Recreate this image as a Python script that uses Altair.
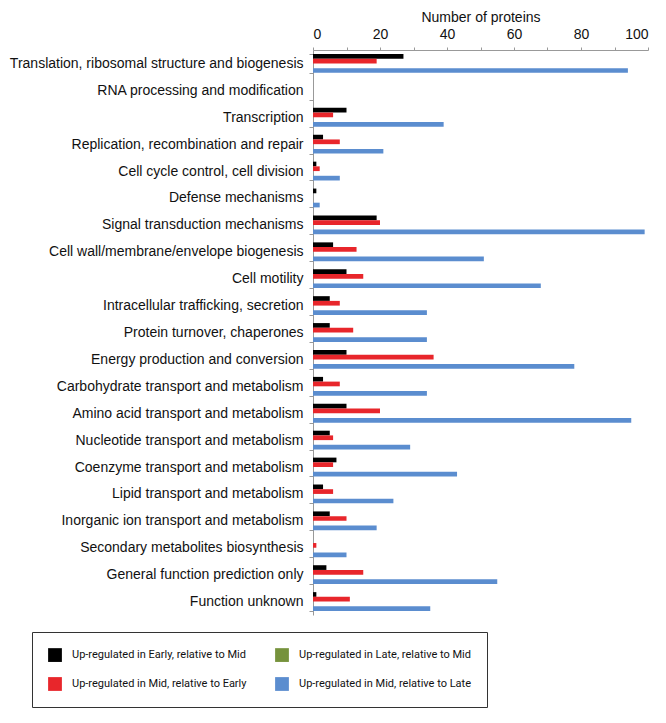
import altair as alt
import pandas as pd

categories = [
    "Translation, ribosomal structure and biogenesis",
    "RNA processing and modification",
    "Transcription",
    "Replication, recombination and repair",
    "Cell cycle control, cell division",
    "Defense mechanisms",
    "Signal transduction mechanisms",
    "Cell wall/membrane/envelope biogenesis",
    "Cell motility",
    "Intracellular trafficking, secretion",
    "Protein turnover, chaperones",
    "Energy production and conversion",
    "Carbohydrate transport and metabolism",
    "Amino acid transport and metabolism",
    "Nucleotide transport and metabolism",
    "Coenzyme transport and metabolism",
    "Lipid transport and metabolism",
    "Inorganic ion transport and metabolism",
    "Secondary metabolites biosynthesis",
    "General function prediction only",
    "Function unknown",
]

s_early = "Up-regulated in Early, relative to Mid"
s_mid_early = "Up-regulated in Mid, relative to Early"
s_late = "Up-regulated in Late, relative to Mid"
s_mid_late = "Up-regulated in Mid, relative to Late"

early_vs_mid = [27, 0, 10, 3, 1, 1, 19, 6, 10, 5, 5, 10, 3, 10, 5, 7, 3, 5, 0, 4, 1]
mid_vs_early = [19, 0, 6, 8, 2, 0, 20, 13, 15, 8, 12, 36, 8, 20, 6, 6, 6, 10, 1, 15, 11]
late_vs_mid = [0] * 21
mid_vs_late = [94, 0, 39, 21, 8, 2, 99, 51, 68, 34, 34, 78, 34, 95, 29, 43, 24, 19, 10, 55, 35]

series_values = {
    s_early: early_vs_mid,
    s_mid_early: mid_vs_early,
    s_late: late_vs_mid,
    s_mid_late: mid_vs_late,
}

bar_order = [s_early, s_mid_early, s_late, s_mid_late]
legend_order = [s_early, s_late, s_mid_early, s_mid_late]
colors = {s_early: "#000000", s_late: "#76923c", s_mid_early: "#e8262b", s_mid_late: "#5b8dcf"}

rows = []
for s in bar_order:
    for c, v in zip(categories, series_values[s]):
        rows.append({"category": c, "series": s, "value": v})
df = pd.DataFrame(rows)

x_ticks = list(range(0, 101, 10))

chart = alt.Chart(df).mark_bar().encode(
    y=alt.Y(
        "category:N",
        sort=categories,
        scale=alt.Scale(paddingInner=0.3, paddingOuter=0.15),
        axis=alt.Axis(
            title=None,
            labelFont="Liberation Sans",
            labelFontSize=14,
            labelColor="#111111",
            labelLimit=400,
            labelPadding=6,
            tickBand="extent",
            tickSize=4,
            tickColor="#999999",
            domainColor="#999999",
        ),
    ),
    yOffset=alt.YOffset("series:N", sort=bar_order, scale=alt.Scale(paddingInner=0, paddingOuter=0)),
    x=alt.X(
        "value:Q",
        scale=alt.Scale(domain=[0, 100], nice=False),
        axis=alt.Axis(
            orient="top",
            title="Number of proteins",
            titleFont="Liberation Sans",
            titleFontSize=14,
            titleFontWeight="normal",
            titleColor="#111111",
            titlePadding=3,
            values=x_ticks,
            labelExpr="datum.value % 20 == 0 ? datum.label : ''",
            labelFont="Liberation Sans",
            labelFontSize=14,
            labelColor="#111111",
            labelPadding=6,
            tickSize=3,
            tickColor="#999999",
            domainColor="#999999",
            grid=False,
        ),
    ),
    color=alt.Color(
        "series:N",
        scale=alt.Scale(domain=legend_order, range=[colors[s] for s in legend_order]),
        legend=alt.Legend(
            title=None,
            orient="none",
            legendX=-281,
            legendY=582,
            columns=2,
            direction="horizontal",
            symbolType="square",
            symbolSize=190,
            symbolStrokeWidth=0,
            labelFont="Roboto",
            labelFontSize=11,
            labelColor="#111111",
            labelOffset=10,
            labelLimit=300,
            columnPadding=28,
            rowPadding=15,
            padding=16,
            strokeColor="#333333",
            fillColor="white",
        ),
    ),
).properties(
    width=335,
    height=565,
    autosize=alt.AutoSizeParams(type="none"),
    padding={"left": 305, "top": 42, "right": 10, "bottom": 97},
).configure_view(stroke=None)

chart.save("out.html", embed_options={"renderer": "svg", "actions": False})
